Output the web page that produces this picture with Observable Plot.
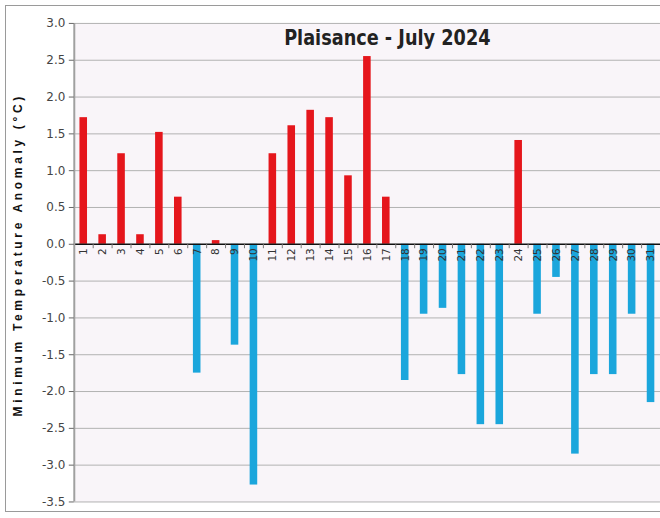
<!DOCTYPE html>
<html>
<head>
<meta charset="utf-8">
<script src="https://cdn.jsdelivr.net/npm/d3@7"></script>
<script src="https://cdn.jsdelivr.net/npm/@observablehq/plot@0.6"></script>
<style>
  html, body { margin: 0; padding: 0; background: #fff; overflow: hidden; }
  #wrap { position: relative; width: 660px; height: 518px; overflow: hidden; }
  #border { position: absolute; left: 5px; top: 5px; width: 670px; height: 507px; border: 1px solid #9a9a9a; box-sizing: border-box; pointer-events: none; }
  #chart { position: absolute; left: 0; top: 0; }
</style>
</head>
<body>
<div id="wrap"><div id="chart"></div><div id="border"></div></div>
<script>
const title = "Plaisance - July 2024";
const yLabel = "Minimum Temperature Anomaly (°C)";
const days = [1,2,3,4,5,6,7,8,9,10,11,12,13,14,15,16,17,18,19,20,21,22,23,24,25,26,27,28,29,30,31];
const anomalies = [1.72,0.13,1.23,0.13,1.52,0.64,-1.75,0.05,-1.37,-3.27,1.23,1.61,1.82,1.72,0.93,2.55,0.64,-1.85,-0.95,-0.87,-1.77,-2.45,-2.45,1.41,-0.95,-0.45,-2.85,-1.77,-1.77,-0.95,-2.15];
const yTicks = [-3.5,-3.0,-2.5,-2.0,-1.5,-1.0,-0.5,0.0,0.5,1.0,1.5,2.0,2.5,3.0];
const yTickLabels = ["-3.5","-3.0","-2.5","-2.0","-1.5","-1.0","-0.5","0.0","0.5","1.0","1.5","2.0","2.5","3.0"];
const posColor = "#e5161c";
const negColor = "#1ba6dc";

const data = days.map((d, i) => ({day: d, value: anomalies[i]}));
const boundaries = days.slice(0, -1).map(d => d + 0.5);

const chart = Plot.plot({
  width: 662,
  height: 518,
  marginLeft: 74,
  marginRight: 0,
  marginTop: 23,
  marginBottom: 15,
  style: {fontFamily: "'DejaVu Sans', sans-serif", background: "transparent"},
  x: {type: "linear", domain: [0.5, 31.5], axis: null},
  y: {domain: [-3.5, 3.0], axis: null},
  marks: [
    Plot.frame({fill: "#f9f5f9", stroke: null}),
    Plot.ruleY(yTicks.filter(v => v !== 0), {stroke: "#b2b2b2", strokeWidth: 1}),
    Plot.rectY(data, {x1: d => d.day - 0.2, x2: d => d.day + 0.2, y: "value", fill: d => d.value >= 0 ? posColor : negColor}),
    Plot.ruleY([0], {stroke: "#111", strokeWidth: 1.5}),
    Plot.ruleX(boundaries, {x: d => d, y1: 0, y2: -0.06, stroke: "#777"}),
    Plot.text(days, {x: d => d, y: 0, text: d => String(d), rotate: -90, textAnchor: "end", dy: 4, fontSize: 10.5, fill: "#333"}),
    Plot.ruleX([0.5], {stroke: "#a0a0a0", strokeWidth: 2}),
    Plot.axisY({ticks: yTicks, tickFormat: d => yTickLabels[yTicks.indexOf(d)], tickSize: 5, tickPadding: 4, fontSize: 12, color: "#444", label: null, stroke: "#666"}),
    Plot.text([yLabel], {frameAnchor: "left", textAnchor: "middle", dx: -56, dy: -8, rotate: -90, fontWeight: "bold", fontSize: 12, fill: "#111", fontFamily: "'Liberation Sans', Arial, sans-serif"}),
    Plot.text([title], {frameAnchor: "top", textAnchor: "middle", dx: 20, dy: 6, fontWeight: "bold", fontSize: 22, fill: "#222"})
  ]
});

d3.select(chart).selectAll("text").filter(function() { return this.textContent === yLabel; }).style("letter-spacing", "3.7px");
d3.select(chart).selectAll("text").filter(function() { return this.textContent === title; }).attr("textLength", 207).attr("lengthAdjust", "spacingAndGlyphs");
document.getElementById("chart").appendChild(chart);
</script>
</body>
</html>
